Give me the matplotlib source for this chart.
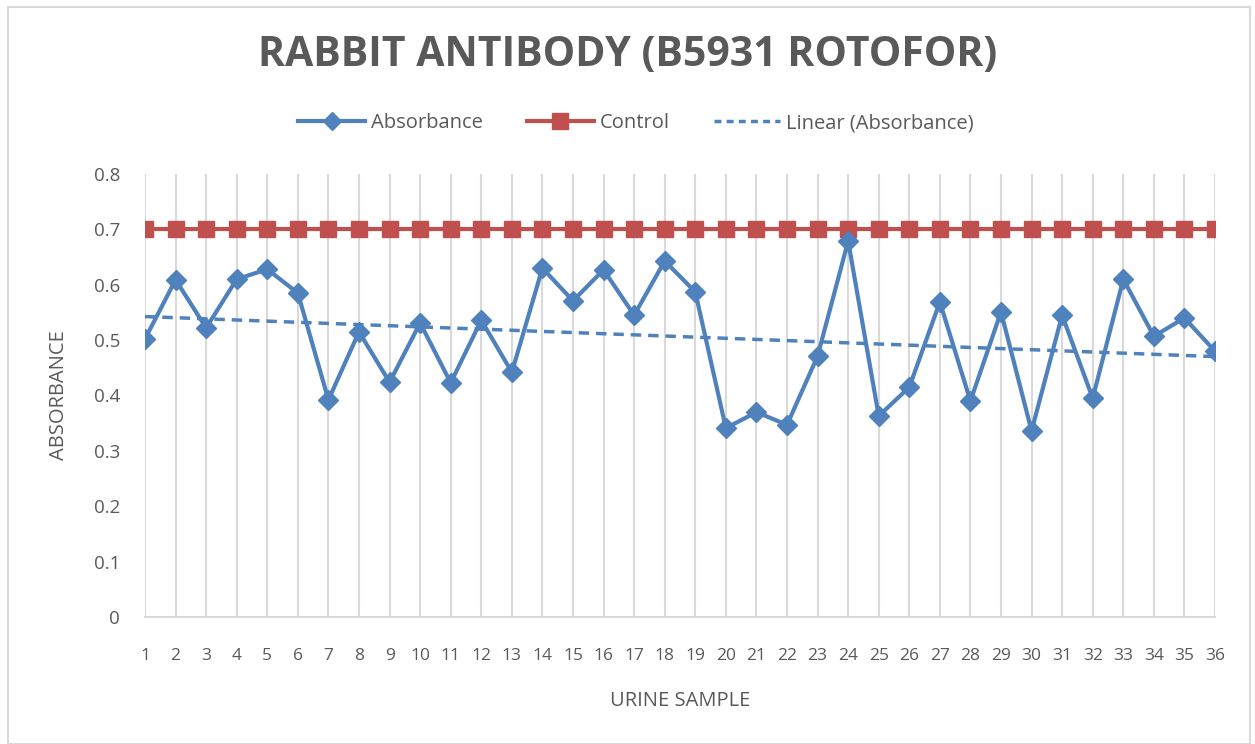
import matplotlib
matplotlib.use("Agg")
import matplotlib.pyplot as plt
from matplotlib.lines import Line2D
from matplotlib.patches import Rectangle
import numpy as np

plt.rcParams['font.family'] = ['Open Sans', 'DejaVu Sans']

samples = list(range(1, 37))
absorbance = [0.502, 0.609, 0.522, 0.610, 0.628, 0.585, 0.392, 0.515, 0.424, 0.531,
              0.423, 0.536, 0.442, 0.630, 0.571, 0.627, 0.545, 0.643, 0.587, 0.341,
              0.370, 0.347, 0.471, 0.679, 0.363, 0.415, 0.569, 0.390, 0.551, 0.336,
              0.545, 0.395, 0.610, 0.507, 0.540, 0.480]
control = [0.7] * 36
y_ticks = [0, 0.1, 0.2, 0.3, 0.4, 0.5, 0.6, 0.7, 0.8]
y_tick_labels = ['0', '0.1', '0.2', '0.3', '0.4', '0.5', '0.6', '0.7', '0.8']

blue = '#4F81BD'
red = '#C0504D'
txt = '#595959'
grid = '#D9D9D9'

fig = plt.figure(figsize=(12.55, 7.44), dpi=100)
fig.patches.append(Rectangle((0.006, 0.0), 0.99, 0.99, transform=fig.transFigure,
                             fill=False, edgecolor='#D9D9D9', linewidth=1.5))
ax = fig.add_axes([145/1255, 1-617/744, (1215-145)/1255, (617-174)/744])

x = np.array(samples)
coef = np.polyfit(x, absorbance, 1)
trend = np.polyval(coef, x)

ax.plot(x, control, color=red, linewidth=3, marker='s', markersize=12, zorder=3)
ax.plot(x, absorbance, color=blue, linewidth=3, marker='D', markersize=10, zorder=4)
ax.plot(x, trend, color=blue, linewidth=2.5, linestyle=(0, (3, 2)), zorder=2)

ax.set_xlim(1, 36)
ax.set_ylim(0, 0.8)
ax.set_xticks(samples)
ax.set_xticklabels([str(s) for s in samples])
ax.set_yticks(y_ticks)
ax.set_yticklabels(y_tick_labels)
ax.tick_params(axis='x', length=0, colors=txt, labelsize=12.5, pad=22)
ax.tick_params(axis='y', length=0, colors=txt, labelsize=13.5, pad=18)
ax.grid(axis='x', color=grid, linewidth=1.5)
ax.grid(axis='y', visible=False)
for s in ['top', 'right', 'left']:
    ax.spines[s].set_visible(False)
ax.spines['bottom'].set_color(grid)
ax.spines['bottom'].set_linewidth(1.5)

ax.set_xlabel('URINE SAMPLE', color=txt, fontsize=14.5, labelpad=20)
ax.set_ylabel('ABSORBANCE', color=txt, fontsize=14.5, labelpad=18)

fig.text(0.5, 1-55/744, 'RABBIT ANTIBODY (B5931 ROTOFOR)', ha='center', va='center',
         fontsize=29.5, fontweight='bold', color=txt)

handles = [Line2D([], [], color=blue, linewidth=3, marker='D', markersize=9),
           Line2D([], [], color=red, linewidth=3, marker='s', markersize=11),
           Line2D([], [], color=blue, linewidth=2.5, linestyle=(0, (2, 1.5)))]
fig.legend(handles, ['Absorbance', 'Control', 'Linear (Absorbance)'],
           loc='center', bbox_to_anchor=(0.507, 1-123/744), ncol=3, frameon=False,
           fontsize=14.5, labelcolor=txt, handlelength=3.3, columnspacing=2.2,
           handletextpad=0.3)

fig.savefig('out.png', dpi=100, facecolor='white')
